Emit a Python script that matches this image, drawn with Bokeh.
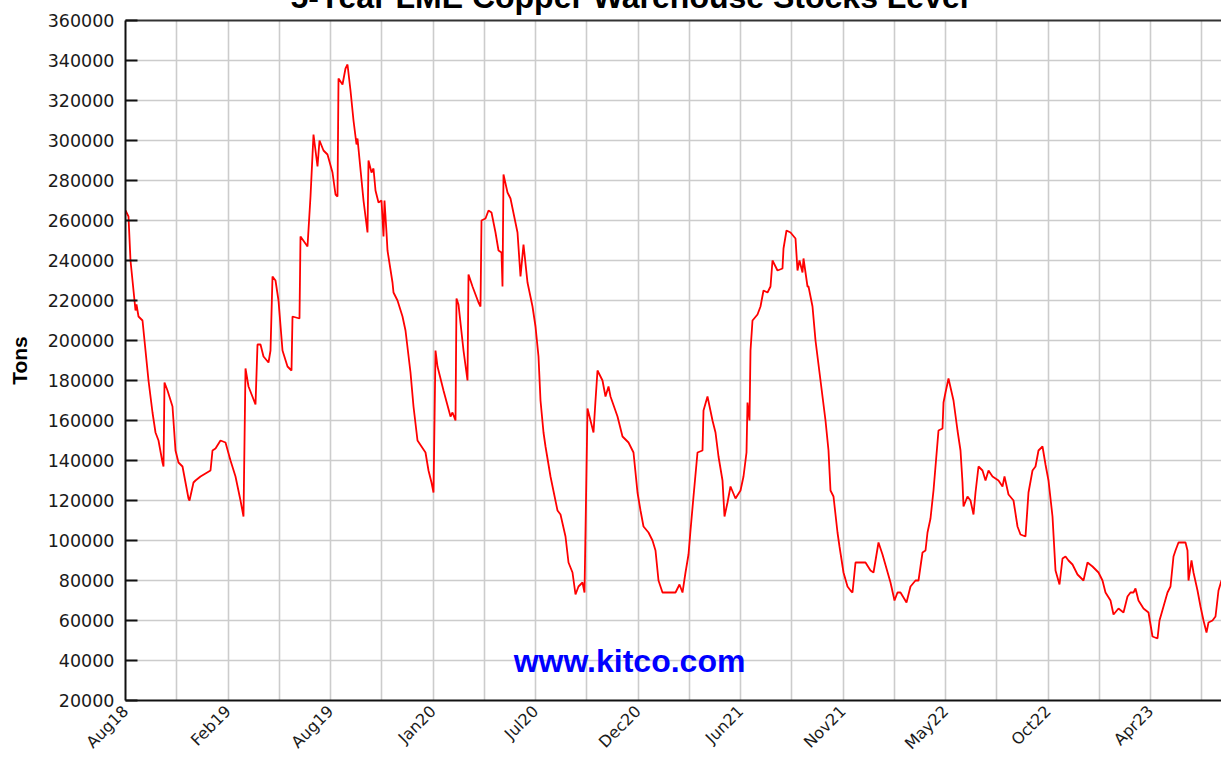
from bokeh.plotting import figure
from bokeh.models import (Range1d, FixedTicker, SingleIntervalTicker, BasicTickFormatter,
                          CustomJSTickFormatter, LinearAxis, Label)
from bokeh.embed import file_html
from bokeh.resources import INLINE

# ---------------- data ----------------
# x: trading-session index from the start of the chart window
session = [0, 3, 5, 8, 10, 11, 13, 17, 23, 27, 30, 33, 37, 38, 39, 42, 47, 50, 53, 57,
           63, 64, 68, 70, 75, 85, 87, 90, 95, 100, 105, 110, 115, 118, 120, 123, 130, 132, 135, 138,
           143, 145, 147, 150, 153, 157, 162, 166, 167, 174, 175, 182, 185, 188, 192, 194, 198, 202, 207, 210,
           212, 213, 217, 220, 222, 225, 228, 231, 232, 238, 242, 243, 246, 248, 250, 253, 256, 258, 259, 261,
           262, 267, 268, 272, 277, 280, 285, 288, 292, 300, 303, 306, 308, 310, 312, 318, 325, 327, 330, 331,
           333, 338, 342, 343, 347, 353, 355, 356, 360, 363, 366, 370, 373, 376, 377, 378, 382, 385, 392, 395,
           398, 402, 407, 410, 413, 415, 418, 420, 425, 432, 435, 440, 443, 447, 450, 453, 457, 459, 462, 465,
           468, 470, 472, 477, 480, 483, 485, 492, 497, 503, 507, 508, 512, 515, 518, 523, 527, 530, 533, 537,
           543, 550, 554, 557, 560, 563, 565, 568, 572, 577, 578, 582, 587, 590, 593, 597, 599, 602, 605, 610,
           615, 618, 621, 622, 624, 625, 627, 632, 635, 638, 642, 645, 647, 652, 657, 658, 661, 665, 670, 672,
           674, 677, 678, 682, 683, 687, 690, 695, 700, 703, 705, 708, 712, 714, 718, 722, 725, 727, 730, 733,
           740, 745, 748, 753, 757, 765, 769, 772, 775, 781, 785, 790, 793, 797, 800, 802, 805, 808, 810, 813,
           817, 818, 820, 823, 828, 832, 835, 837, 838, 842, 845, 848, 850, 853, 857, 860, 863, 867, 873, 877,
           879, 883, 888, 892, 895, 900, 903, 907, 910, 913, 917, 920, 923, 927, 930, 934, 937, 940, 943, 947,
           952, 958, 962, 967, 973, 977, 980, 985, 988, 993, 998, 1002, 1005, 1008, 1010, 1013, 1018, 1023, 1027, 1032,
           1034, 1038, 1042, 1045, 1048, 1050, 1053, 1060, 1062, 1063, 1066, 1068, 1072, 1075, 1078, 1081, 1083, 1087, 1090, 1093,
           1096]

# LME copper stocks, thousand tonnes
stocks_kt = [265, 262, 240, 225, 215, 218, 212, 210, 180, 164, 154, 150, 139, 137, 179, 175, 167, 145, 139, 137,
             121, 120, 129, 130, 132, 135, 145, 146, 150, 149, 140, 132, 120, 112, 186, 177, 168, 198, 198, 192,
             189, 195, 232, 230, 220, 195, 187, 185, 212, 211, 252, 247, 272, 303, 287, 300, 295, 293, 284, 273,
             272, 331, 328, 336, 338, 325, 310, 298, 301, 270, 254, 290, 284, 286, 275, 269, 270, 252, 270, 254,
             245, 229, 224, 220, 212, 205, 184, 167, 150, 144, 135, 129, 124, 195, 187, 175, 162, 164, 160, 221,
             218, 195, 180, 233, 227, 219, 217, 260, 261, 265, 264, 254, 245, 244, 227, 283, 274, 271, 254, 232,
             248, 229, 217, 207, 192, 170, 154, 147, 132, 115, 113, 102, 89, 84, 73, 77, 79, 74, 166, 160,
             154, 170, 185, 180, 172, 177, 172, 162, 152, 149, 145, 144, 124, 115, 107, 104, 100, 95, 80, 74,
             74, 74, 78, 74, 84, 93, 105, 122, 144, 145, 165, 172, 160, 154, 142, 130, 112, 119, 127, 121,
             125, 132, 144, 169, 160, 195, 210, 213, 217, 225, 224, 227, 240, 235, 236, 246, 255, 254, 251, 235,
             240, 234, 241, 227, 227, 217, 200, 180, 160, 145, 125, 122, 104, 97, 84, 77, 75, 74, 89, 89,
             89, 85, 84, 99, 93, 79, 70, 74, 74, 69, 77, 80, 80, 94, 95, 104, 111, 125, 137, 155,
             156, 169, 174, 181, 170, 155, 145, 129, 117, 122, 120, 113, 124, 137, 135, 130, 135, 132, 130, 127,
             132, 123, 120, 107, 103, 102, 124, 135, 137, 145, 147, 138, 130, 112, 85, 78, 91, 92, 90, 88,
             83, 80, 89, 87, 84, 80, 74, 70, 63, 66, 64, 72, 74, 74, 76, 70, 66, 64, 52, 51,
             60, 67, 74, 77, 92, 95, 99, 99, 95, 80, 90, 84, 75, 67, 60, 54, 59, 60, 62, 75,
             80]
stocks = [v * 1000 for v in stocks_kt]

month_labels = ["Aug18", "Feb19", "Aug19", "Jan20", "Jul20", "Dec20",
                "Jun21", "Nov21", "May22", "Oct22", "Apr23"]
label_step = 102.5          # sessions between labelled ticks
y_start, y_end, y_step = 20000, 360000, 20000

title_text = "5-Year LME Copper Warehouse Stocks Level"
watermark = "www.kitco.com"

# ---------------- figure ----------------
# the reference screenshot starts just below the title's cap line: the page is
# shifted up so the title is cut at the top exactly like there
p = figure(width=1221, height=802, output_backend="svg", toolbar_location=None,
           title=title_text,
           x_range=Range1d(0, 1096), y_range=Range1d(y_start, y_end),
           min_border_left=125, min_border_right=0, min_border_top=60, min_border_bottom=61)
p.styles = {"margin-top": "-40px"}
p.background_fill_color = "white"
p.border_fill_color = "white"
p.outline_line_color = None

p.title.align = "left"
p.title.offset = 165
p.title.standoff = 12
p.title.text_font = "Liberation Sans"
p.title.text_font_style = "bold"
p.title.text_font_size = "32px"
p.title.text_color = "#000000"

p.line(session, stocks, line_color="#ff0000", line_width=1.8)

# x axis
tick_pos = [i * label_step for i in range(len(month_labels))]
p.xaxis.ticker = FixedTicker(ticks=tick_pos)
p.xaxis.formatter = CustomJSTickFormatter(args=dict(labels=month_labels, step=label_step), code="""
    const i = Math.round(tick / step);
    return (i >= 0 && i < labels.length) ? labels[i] : "";
""")
p.xaxis.major_label_orientation = 0.7854
p.xaxis.major_label_text_font = "DejaVu Sans"
p.xaxis.major_label_text_font_size = "16px"
p.xaxis.major_label_text_color = "#1a1a1a"
p.xaxis.major_label_standoff = 2
p.xaxis.major_tick_line_color = None
p.xaxis.minor_tick_line_color = None
p.xaxis.axis_line_color = "#111111"
p.xaxis.axis_line_width = 2

# y axis
p.yaxis.ticker = SingleIntervalTicker(interval=y_step)
p.yaxis.formatter = BasicTickFormatter(use_scientific=False)
p.yaxis.major_label_text_font = "DejaVu Sans"
p.yaxis.major_label_text_font_size = "17.5px"
p.yaxis.major_label_text_color = "#1a1a1a"
p.yaxis.major_label_standoff = 7
p.yaxis.major_tick_in = 12
p.yaxis.major_tick_out = 0
p.yaxis.major_tick_line_width = 2
p.yaxis.major_tick_line_color = "#111111"
p.yaxis.minor_tick_line_color = None
p.yaxis.axis_line_color = "#111111"
p.yaxis.axis_line_width = 2
p.yaxis.axis_label = "Tons"
p.yaxis.axis_label_text_font = "Liberation Sans"
p.yaxis.axis_label_text_font_style = "bold"
p.yaxis.axis_label_text_font_size = "21px"
p.yaxis.axis_label_text_color = "#000000"
p.yaxis.axis_label_standoff = 14

# top border
top = LinearAxis(ticker=FixedTicker(ticks=[]), axis_line_color="#333333", axis_line_width=2,
                 major_tick_line_color=None, minor_tick_line_color=None)
p.add_layout(top, "above")

# grids
p.xgrid.ticker = FixedTicker(ticks=[i * label_step / 2 for i in range(2 * len(month_labels) + 1)])
p.xgrid.grid_line_color = "#cccccc"
p.xgrid.grid_line_width = 1.6
p.ygrid.grid_line_color = "#cccccc"
p.ygrid.grid_line_width = 1.6

# watermark
p.add_layout(Label(x=504, y=40000, text=watermark, text_color="#0000ff",
                   text_font="Liberation Sans", text_font_style="bold", text_font_size="32px",
                   text_align="center", text_baseline="alphabetic"))

open("out.html", "w").write(file_html(p, INLINE))
